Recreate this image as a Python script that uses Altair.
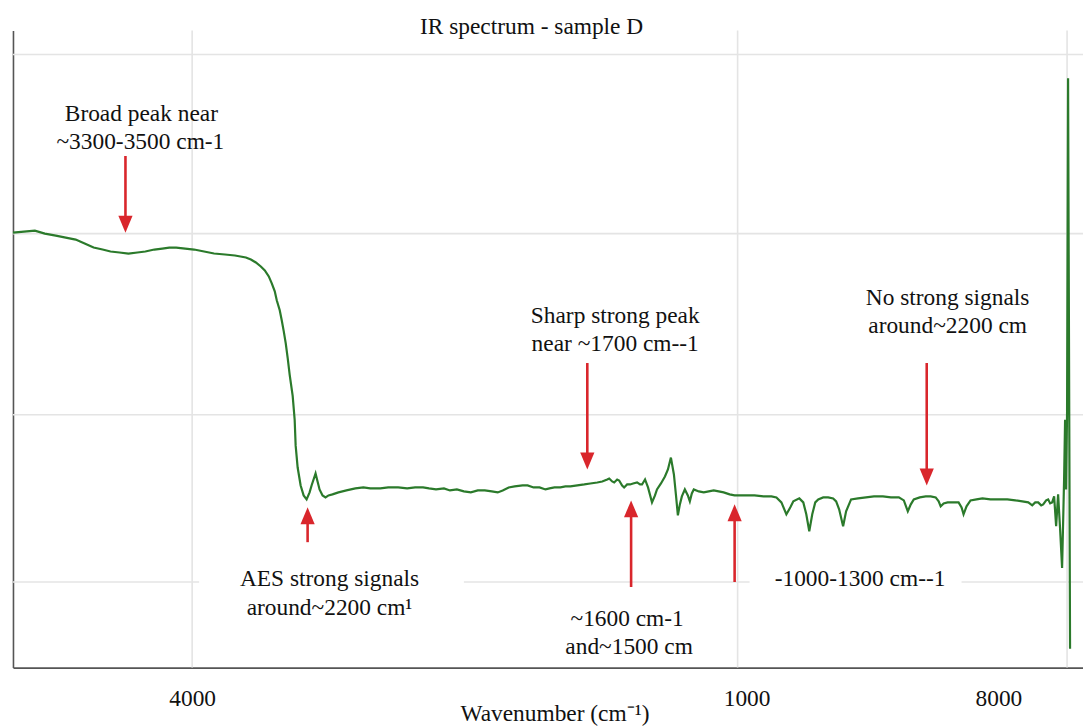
import altair as alt
import pandas as pd

# ---- values (x = position along the plot, y = signal level) ----
spec_pos = [0, 11, 22, 32, 43, 53, 63, 72, 81, 90,
            98, 107, 116, 125, 133, 142, 150, 157, 164, 173,
            182, 192, 202, 213, 223, 234, 239, 244, 249, 253,
            257, 260, 263, 265, 268, 270, 272, 274, 276, 278,
            281, 283, 284, 286, 289, 292, 295, 298, 300, 304,
            306, 308, 311, 314, 317, 321, 327, 335, 344, 352,
            359, 369, 377, 387, 396, 404, 412, 418, 425, 433,
            439, 446, 453, 460, 467, 474, 481, 487, 492, 498,
            504, 512, 517, 523, 529, 535, 539, 544, 550, 555,
            560, 567, 574, 580, 587, 592, 597, 599, 602, 604,
            607, 609, 612, 614, 617, 620, 623, 627, 630, 632,
            635, 638, 642, 645, 647, 651, 655, 658, 661, 664,
            666, 668, 670, 672, 675, 678, 680, 682, 684, 689,
            694, 699, 704, 709, 714, 720, 725, 731, 737, 745,
            754, 762, 767, 772, 777, 781, 784, 790, 794, 797,
            800, 803, 806, 809, 814, 819, 824, 827, 830, 834,
            837, 842, 849, 857, 865, 874, 882, 890, 895, 899,
            902, 905, 911, 917, 922, 927, 930, 932, 935, 939,
            945, 950, 953, 955, 958, 962, 968, 974, 982, 990,
            999, 1007, 1014, 1020, 1024, 1027, 1030, 1033, 1035, 1038,
            1040, 1042, 1044, 1046, 1048, 1050, 1052, 1054, 1056, 1057,
            1058, 1059, 1060, 1062]
spec_sig = [437, 438, 439, 436, 434, 432, 430, 426, 422, 420,
            418, 417, 416, 417, 418, 420, 421, 422, 422, 421,
            420, 418, 416, 415, 414, 412, 410, 407, 403, 399,
            393, 386, 378, 369, 359, 349, 338, 326, 311, 294,
            273, 249, 223, 201, 183, 173, 169, 176, 183, 195,
            187, 179, 173, 171, 173, 174, 176, 178, 180, 181,
            180, 180, 181, 181, 180, 181, 181, 180, 179, 180,
            178, 179, 177, 176, 178, 178, 177, 176, 178, 181,
            182, 183, 183, 181, 181, 179, 180, 181, 181, 182,
            182, 183, 184, 185, 186, 187, 189, 190, 187, 186,
            189, 188, 183, 181, 184, 184, 185, 186, 184, 184,
            189, 181, 166, 173, 179, 185, 192, 199, 211, 194,
            174, 153, 164, 172, 179, 173, 167, 175, 179, 177,
            176, 177, 178, 177, 176, 174, 173, 173, 173, 173,
            172, 172, 171, 166, 154, 161, 167, 170, 166, 154,
            137, 154, 166, 169, 171, 171, 170, 167, 159, 142,
            157, 169, 170, 171, 172, 172, 171, 171, 168, 157,
            164, 169, 171, 172, 172, 171, 167, 162, 165, 166,
            166, 166, 161, 154, 162, 168, 169, 170, 169, 169,
            169, 168, 167, 166, 163, 166, 166, 163, 164, 168,
            169, 165, 166, 172, 142, 174, 139, 100, 189, 249,
            179, 257, 592, 19]
assert len(spec_pos) == len(spec_sig)

x_tick_pos = [180, 737, 990]
x_tick_labels = ["4000", "1000", "8000"]
grid_x = [180, 728, 1059]
grid_y = [616, 436, 254, 86]

arrow_pos = [113, 296, 577, 621, 725, 918]
arrow_tail = [514, 126, 306, 81, 86, 306]
arrow_tip = [437, 161, 199, 168, 164, 183]

note_pos = [129, 128, 318, 318, 605, 605, 617, 619, 851, 939, 939]
note_base = [549, 521, 82, 53, 346, 318, 42, 14, 82, 364, 336]
note_text = ["Broad peak near", "~3300-3500 cm-1",
             "AES strong signals", "around~2200 cm\u00b9",
             "Sharp strong peak", "near ~1700 cm--1",
             "~1600 cm-1", "and~1500 cm",
             "-1000-1300 cm--1",
             "No strong signals", "around~2200 cm"]

box_x1 = [187, 740]
box_x2 = [453, 953]
box_y1 = [69, 69]
box_y2 = [104, 104]

title_text = "IR spectrum - sample D"
title_pos = [521]
title_base = [637]
x_title = "Wavenumber (cm\u207b\u00b9)"

# ---- styling ----
FONT = "Liberation Serif"
FS = 23.5
GREEN = "#2b7a2b"
RED = "#d9262c"
GRID = "#e4e4e4"
TEXT = "#111111"

xs = alt.Scale(domain=[0, 1075], nice=False, zero=False)
ys = alt.Scale(domain=[0, 640], nice=False, zero=False)

spec_df = pd.DataFrame({"pos": spec_pos, "sig": spec_sig, "i": range(len(spec_pos))})
gx_df = pd.DataFrame({"pos": grid_x})
gy_df = pd.DataFrame({"sig": grid_y})

dirs = ["down" if t < s else "up" for s, t in zip(arrow_tail, arrow_tip)]
shaft_end = [t + 8 if d == "down" else t - 8 for t, d in zip(arrow_tip, dirs)]
arr_df = pd.DataFrame({"pos": arrow_pos, "tail": arrow_tail, "tip": arrow_tip,
                       "end": shaft_end, "dir": dirs})
note_df = pd.DataFrame({"pos": note_pos, "sig": note_base, "txt": note_text})
box_df = pd.DataFrame({"x1": box_x1, "x2": box_x2, "y1": box_y1, "y2": box_y2})
title_df = pd.DataFrame({"pos": title_pos, "sig": title_base, "txt": [title_text]})

label_expr = " : ".join(
    f"datum.value == {p} ? '{l}'" for p, l in zip(x_tick_pos, x_tick_labels)
) + " : ''"

x_axis = alt.Axis(values=x_tick_pos, labelExpr=label_expr, grid=False, ticks=False,
                  tickSize=0, domain=True, domainColor="#555555", domainWidth=1.6,
                  labelFont=FONT, labelFontSize=FS, labelColor=TEXT,
                  labelBaseline="alphabetic", labelPadding=38, labelFlush=False,
                  labelOverlap=False, title=x_title, titleFont=FONT, titleFontSize=FS,
                  titleFontWeight="normal", titleColor=TEXT, titleX=544, titleY=53,
                  titleBaseline="alphabetic", titleAlign="center")
y_axis = alt.Axis(labels=False, ticks=False, grid=False, domain=True,
                  domainColor="#555555", domainWidth=1.6, title=None)


def X(field):
    return alt.X(field, type="quantitative", scale=xs, axis=x_axis)


def Y(field):
    return alt.Y(field, type="quantitative", scale=ys, axis=y_axis)


vgrid = alt.Chart(gx_df).mark_rule(color=GRID, strokeWidth=1.6).encode(x=X("pos"))
hgrid = alt.Chart(gy_df).mark_rule(color=GRID, strokeWidth=1.6).encode(y=Y("sig"))

boxes = alt.Chart(box_df).mark_rect(color="white").encode(
    x=X("x1"), x2="x2:Q", y=Y("y1"), y2="y2:Q")

line = alt.Chart(spec_df).mark_line(color=GREEN, strokeWidth=2.2).encode(
    x=X("pos"), y=Y("sig"), order="i:Q")

shafts = alt.Chart(arr_df).mark_rule(color=RED, strokeWidth=2.6).encode(
    x=X("pos"), y=Y("tail"), y2="end:Q")

head_down = "M-0.42,-1L0.42,-1L0,0Z"
head_up = "M-0.42,1L0.42,1L0,0Z"
heads = alt.Chart(arr_df).mark_point(filled=True, opacity=1, strokeWidth=0, size=1156).encode(
    x=X("pos"), y=Y("tip"),
    shape=alt.Shape("dir:N", scale=alt.Scale(domain=["down", "up"], range=[head_down, head_up]),
                    legend=None),
    color=alt.value(RED))

notes = alt.Chart(note_df).mark_text(font=FONT, fontSize=FS, color=TEXT, align="center",
                                     baseline="alphabetic").encode(
    x=X("pos"), y=Y("sig"), text="txt:N")

title = alt.Chart(title_df).mark_text(font=FONT, fontSize=FS, color=TEXT, align="center",
                                      baseline="alphabetic").encode(
    x=X("pos"), y=Y("sig"), text="txt:N")

chart = alt.layer(vgrid, hgrid, boxes, line, shafts, heads, notes, title).properties(
    width=1075, height=640,
    autosize=alt.AutoSizeParams(type="none"),
    padding={"left": 5, "top": 21, "right": 0, "bottom": 57},
    background="white",
).configure_view(stroke=None)

chart.save("out.html", embed_options={"renderer": "svg", "actions": False})
